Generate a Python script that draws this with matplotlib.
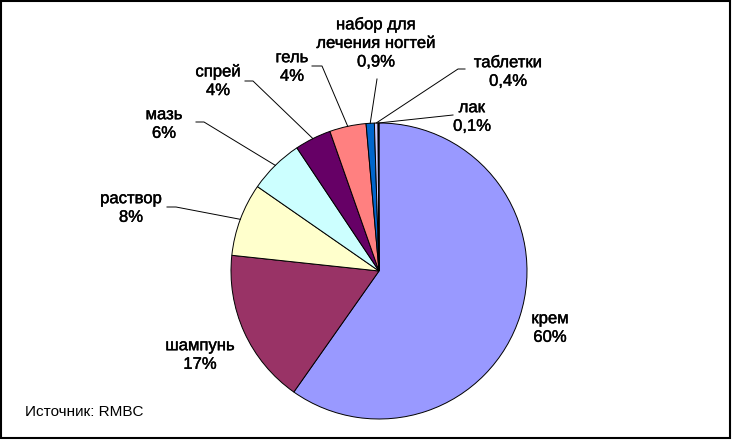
import numpy as np
import matplotlib
matplotlib.use("Agg")
import matplotlib.pyplot as plt
import matplotlib.patheffects as pe
from matplotlib.patches import Rectangle

plt.rcParams["font.family"] = ["Liberation Sans", "DejaVu Sans"]

# --- data ---
labels = ["крем", "шампунь", "раствор", "мазь", "спрей", "гель",
          "набор для\nлечения ногтей", "таблетки", "лак"]
shares = [60, 17, 8, 6, 4, 4, 0.9, 0.4, 0.1]
share_text = ["60%", "17%", "8%", "6%", "4%", "4%", "0,9%", "0,4%", "0,1%"]
colors = ["#9999FF", "#993366", "#FFFFCC", "#CCFFFF", "#660066",
          "#FF8080", "#0066CC", "#CCCCFF", "#000080"]

W, H = 732, 441
cx, cy, r = 379, 271, 148  # pie centre / radius in image pixels

# label centres (image px) and leader line start points (None = no line)
label_pos = [(550, 328), (200, 355), (131, 208), (164, 124), (218, 81),
             (292, 67), (376, 43), (508, 72), (472, 117)]
leader_pts = [None, None, [(167, 207), (176, 207)], [(196, 122), (204, 122)],
              [(245, 81), (253, 81)], [(312, 66), (322, 66)],
              [(377, 79)], [(465, 69), (458, 69)], [(453, 115)]]


def Y(y):
    return H - y


fig = plt.figure(figsize=(W / 100, H / 100), dpi=100)
ax = fig.add_axes([0, 0, 1, 1])

wedges, _ = ax.pie(shares, colors=colors, startangle=90, counterclock=False,
                   center=(cx, Y(cy)), radius=r,
                   wedgeprops=dict(edgecolor="black", linewidth=0.7))

ax.set_xlim(0, W)
ax.set_ylim(0, H)
ax.set_aspect("equal")
ax.axis("off")

heavy = [pe.withStroke(linewidth=0.3, foreground="black")]
for i, w in enumerate(wedges):
    x, y = label_pos[i]
    ax.text(x, Y(y), labels[i] + "\n" + share_text[i], ha="center", va="center",
            fontsize=12, linespacing=1.3, path_effects=heavy)
    if leader_pts[i] is not None:
        mid = np.deg2rad((w.theta1 + w.theta2) / 2)
        end = (cx + r * np.cos(mid), Y(cy) + r * np.sin(mid))
        xs = [p[0] for p in leader_pts[i]] + [end[0]]
        ys = [Y(p[1]) for p in leader_pts[i]] + [end[1]]
        ax.plot(xs, ys, color="black", linewidth=0.7)

ax.text(25, Y(412), "Источник: RMBC", ha="left", va="center", fontsize=11)

ax.add_patch(Rectangle((1, Y(438)), 728.5, 437, fill=False,
                       edgecolor="black", linewidth=1.5, clip_on=False))

fig.savefig("out.png", dpi=100)
